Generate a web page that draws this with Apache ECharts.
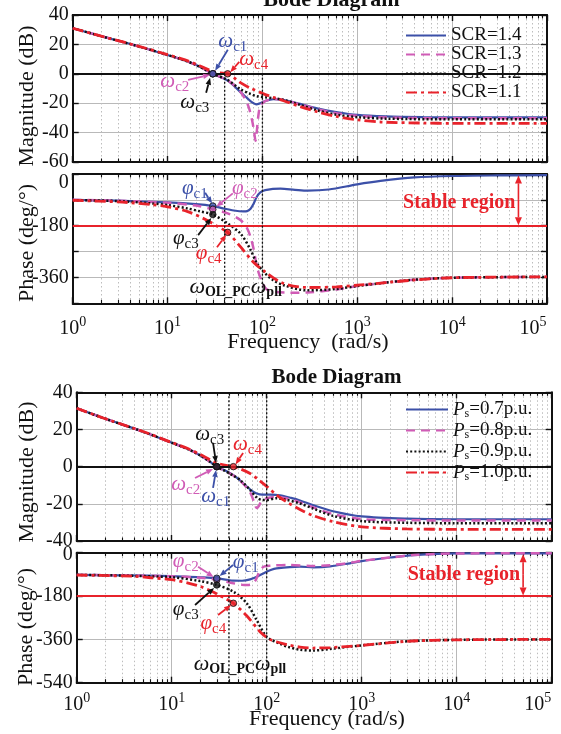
<!DOCTYPE html>
<html>
<head>
<meta charset="utf-8">
<script src="https://cdn.jsdelivr.net/npm/echarts@6.0.0/dist/echarts.min.js"></script>
<style>
  html, body { margin: 0; padding: 0; background: #ffffff; }
  #c { width: 561px; height: 734px; }
</style>
</head>
<body>
<div id="c"></div>
<script>
// ---------- frequency axis (rad/s) ----------
const freqMin = 1;
const freqMax = 1e5;
const wOLPC = 40;      // outer power-control loop bandwidth
const wPLL = 100;      // PLL bandwidth
const stableFreq = 5e4;

// ---------- upper plot: SCR sweep ----------
const scrNames = ['SCR=1.4', 'SCR=1.3', 'SCR=1.2', 'SCR=1.1'];

const scrMag14 = [[1,31],[2,25.6],[5,18.6],[10,12.8],[15,9.2],[20,6],[25,2.8],[30,0],[42,-4.2],[50,-8],[58.6,-12.5],[69,-16.5],[78,-19.5],[86,-20.8],[95,-20],[107,-18.5],[130,-17.3],[170,-17.8],[250,-20.5],[377,-23.5],[600,-26],[1000,-28],[2000,-29],[5000,-29.5],[10000,-29.6],[100000,-29.6]];
const scrMag13 = [[1,31],[2,25.6],[5,18.6],[10,12.8],[15,9.2],[20,6],[25,2.8],[30,0],[42,-4.1],[55,-10],[65,-16.5],[72,-23],[78,-32],[82,-40],[84.5,-45.5],[87,-40],[90,-30],[95,-22],[107,-18.6],[131,-17.2],[170,-17.9],[250,-20.8],[377,-24],[600,-26.8],[1000,-28.6],[2000,-29.7],[10000,-30.3],[100000,-30.3]];
const scrMag12 = [[1,31],[2,25.6],[5,18.6],[10,12.8],[15,9.2],[20,6],[25,2.8],[30,0],[42,-3.8],[58.6,-10.5],[74.5,-13.6],[87,-15.2],[107,-16],[131,-16.6],[170,-17.9],[250,-21.2],[377,-24.8],[600,-27.8],[1000,-29.5],[2000,-30.5],[10000,-31],[100000,-31]];
const scrMag11 = [[1,31],[2,25.6],[5,18.7],[10,13],[15,9.6],[20,6.5],[25,3.7],[30,1.6],[36,0.7],[43,0],[50,-2.6],[58.6,-6],[75,-9.8],[100,-13.3],[130,-16],[167,-18.3],[250,-22.3],[377,-25.8],[600,-29],[1000,-31.3],[1760,-32.8],[5000,-33.5],[10000,-33.7],[100000,-33.7]];

const scrPh14 = [[1,-90],[3,-93],[10,-99],[20,-105],[30,-111.6],[40,-121],[50,-127],[63,-130],[69,-129],[75,-121],[80,-106],[87,-80],[95,-64],[107,-56],[155,-51],[220,-55],[300,-58],[500,-54],[1000,-36],[1760,-24],[4000,-12],[10000,-7],[30000,-5],[100000,-4]];
const scrPh13 = [[1,-90],[3,-93],[10,-100],[20,-110],[30,-123],[43,-137],[58.6,-160],[69,-189],[75,-220],[80,-255],[86,-310],[91,-342],[100,-378],[110,-400],[130,-410],[200,-413],[300,-412],[600,-402],[1000,-390],[2000,-378],[4000,-368],[10000,-361],[100000,-358]];
const scrPh12 = [[1,-91],[3,-94],[6.6,-102],[10,-108],[16.3,-120],[22,-130],[30,-141],[43,-172],[58.6,-207],[74.5,-262],[87,-310],[107,-346],[130,-370],[167,-387],[295,-405],[600,-400],[1000,-390],[2000,-378],[4000,-368],[10000,-361],[100000,-358]];
const scrPh11 = [[1,-92],[3,-97],[6.6,-106],[10,-114],[16.3,-131],[25.7,-160],[33,-181],[43,-203],[58.6,-253],[80,-306],[107,-341],[167,-381],[300,-395],[600,-393],[1000,-387],[2000,-378],[4000,-369],[10000,-361],[100000,-358]];

// crossover points (c1..c4)
const scrCrossFreq = [30, 30, 30, 43];
const scrCrossMag = [0, 0, 0, 0];
const scrCrossPhase = [-111.6, -123, -141, -203];

// ---------- lower plot: active power sweep ----------
const psNames = ['Ps=0.7p.u.', 'Ps=0.8p.u.', 'Ps=0.9p.u.', 'Ps=1.0p.u.'];

const psMag07 = [[1,31.4],[2,25.8],[5,18.8],[10,12.9],[15,9.3],[20,6],[25,2.8],[29.8,0],[37,-2.2],[44.6,-4.6],[53,-7.6],[61.6,-10.7],[70,-13],[78.5,-14.4],[90,-15],[110,-15],[138,-15.4],[180,-16.8],[224,-18.2],[310,-20.8],[500,-24],[1000,-26.8],[3000,-28],[10000,-28.3],[100000,-28.3]];
const psMag08 = [[1,31.4],[2,25.8],[5,18.8],[10,12.9],[15,9.3],[20,6],[25,2.8],[29.8,0],[37,-2.4],[44.6,-4.8],[52.6,-7.6],[62,-11.5],[68,-14.5],[73,-18.5],[78.5,-22.3],[83,-21],[88,-18.5],[100,-17],[127,-16.3],[160,-17],[224,-19.2],[310,-22],[500,-25.5],[1000,-28.2],[3000,-28.8],[10000,-29],[100000,-29]];
const psMag09 = [[1,31.4],[2,25.8],[5,18.8],[10,12.9],[15,9.3],[20,6],[25,2.8],[29.8,0],[37,-2.5],[44.6,-4.9],[52.6,-7.2],[67,-12.6],[78.5,-16.6],[90,-17.9],[100,-17.9],[127,-17],[160,-17.8],[224,-19.8],[310,-22.6],[500,-26.5],[1000,-29.3],[3000,-30.2],[10000,-30.4],[100000,-30.4]];
const psMag10 = [[1,31.4],[2,25.8],[5,18.9],[10,13],[15,9.6],[20,6.6],[25,3.9],[29.8,2],[36,0.8],[44.6,0],[55,-1.6],[67,-3.7],[80,-6.6],[100,-10.6],[127,-15.2],[160,-18.8],[224,-23],[310,-26.4],[500,-29.6],[1000,-32.4],[3000,-33.5],[10000,-33.7],[100000,-33.7]];

const psPh07 = [[1,-92],[3,-94],[10,-97],[20,-102],[29.8,-106],[44.6,-116],[55,-116.5],[67,-111],[80,-99],[92,-86],[110,-72],[127,-65],[224,-58],[310,-61],[465,-57],[750,-44],[1000,-35],[2000,-20],[3500,-10],[10000,-3],[100000,-2.5]];
const psPh08 = [[1,-92],[3,-94],[10,-98],[20,-104],[29.8,-112],[44.6,-127],[55,-133],[63,-134],[70,-130],[76,-116],[82,-87],[88,-66],[95,-57],[110,-54],[167,-51],[310,-55],[465,-52],[750,-42],[1000,-34],[2000,-20],[3500,-10],[10000,-3],[100000,-2.5]];
const psPh09 = [[1,-92],[3,-95],[10,-102],[20,-118],[29.8,-134],[44.6,-162],[61.6,-210],[78.5,-280],[100,-349],[138,-378],[167,-391],[224,-403],[310,-406],[465,-400],[1000,-385],[3000,-368],[10000,-362],[100000,-360]];
const psPh10 = [[1,-93],[4,-98],[6,-104],[10,-112],[15.6,-128],[20,-140],[28,-165],[35,-186],[44.6,-210],[61.6,-262],[85,-328],[108,-360],[138,-374],[167,-383],[224,-392],[310,-396],[465,-394],[1000,-385],[3000,-368],[10000,-362],[100000,-360]];

const psCrossFreq = [29.8, 29.8, 29.8, 44.6];
const psCrossMag = [0, 0, 0, 0];
const psCrossPhase = [-106, -112, -134, -210];

// ---------- styling ----------
const FONT = '"Liberation Serif", "Times New Roman", serif';
const INK = '#111111';
const BLUE = '#3c50a8', PINK = '#d05cb6', BLACK = '#111111', RED = '#e8232b';
const LINE_STYLES = [
  { color: BLUE,  type: 'solid',       width: 2.2 },
  { color: PINK,  type: [9, 6],        width: 2.5 },
  { color: BLACK, type: [2, 2.2],      width: 2.5 },
  { color: RED,   type: [11, 4, 3, 4], width: 2.8 }
];

// plot rectangles: upper magnitude, upper phase, lower magnitude, lower phase
const GRIDS = [
  { left: 72.7, top: 15,    width: 474.3, height: 147 },
  { left: 72.7, top: 174,   width: 474.3, height: 129.3 },
  { left: 76.7, top: 392.3, width: 475,   height: 148.7 },
  { left: 76.7, top: 552.7, width: 475,   height: 130 }
];
const Y_SCALES = [
  { min: -60,  max: 40, interval: 20 },
  { min: -450, max: 0,  interval: 90 },
  { min: -40,  max: 40, interval: 20 },
  { min: -540, max: 0,  interval: 180 }
];

const chart = echarts.init(document.getElementById('c'), null, { renderer: 'canvas' });

function xAxisFor(g, pos, withLabels) {
  const bottom = pos === 'bottom';
  return {
    type: 'log', logBase: 10, gridIndex: g, position: pos,
    min: freqMin, max: freqMax, splitNumber: 5,
    axisLine: { show: true, onZero: false, lineStyle: { color: INK, width: 2 } },
    axisTick: { show: true, inside: true, length: 6, lineStyle: { color: INK, width: 1.4 } },
    minorTick: { show: true, splitNumber: 9, length: 3.5, lineStyle: { color: INK, width: 1.1 } },
    splitLine: { show: bottom, lineStyle: { color: '#b9b9b9', width: 1 } },
    minorSplitLine: { show: bottom, lineStyle: { color: '#bdbdbd', width: 1, type: [1.5, 2.5] } },
    axisLabel: withLabels ? {
      show: true, margin: g === 1 ? 12 : 9, showMinLabel: true, showMaxLabel: true,
      formatter: function (v) {
        const k = Math.round(Math.log10(v));
        return k === 5 ? '{m|10}{q|5}' : '{m|10}{e|' + k + '}';
      },
      rich: {
        m: { fontSize: 20, fontFamily: FONT, color: INK },
        e: { fontSize: 14, fontFamily: FONT, color: INK, padding: [0, 0, 12, 0] },
        q: { fontSize: 14, fontFamily: FONT, color: INK, padding: [0, 28, 12, 0] }
      }
    } : { show: false }
  };
}

function yAxisFor(g, pos) {
  const s = Y_SCALES[g];
  const left = pos === 'left';
  let formatter = null;
  if (g === 1) {
    formatter = function (v) {
      if (v % 180 !== 0) return '';
      return v === 0 ? '{z|0}' : String(v);
    };
  } else if (g === 3) {
    formatter = function (v) { return v === 0 ? '{y|0}' : String(v); };
  }
  return {
    type: 'value', gridIndex: g, position: pos,
    min: s.min, max: s.max, interval: s.interval,
    axisLine: { show: true, onZero: false, lineStyle: { color: INK, width: 2 } },
    axisTick: { show: true, inside: true, length: 6, lineStyle: { color: INK, width: 1.4 } },
    splitLine: { show: left, lineStyle: { color: '#b9b9b9', width: 1 } },
    axisLabel: left ? {
      show: true, margin: 4, fontSize: 20, fontFamily: FONT, color: INK,
      formatter: formatter || undefined,
      rich: {
        z: { fontSize: 20, fontFamily: FONT, color: INK, padding: [18, 0, 0, 0] },
        y: { fontSize: 20, fontFamily: FONT, color: INK, padding: [5, 0, 0, 0] }
      }
    } : { show: false }
  };
}

function curve(name, data, g, i, extra) {
  const st = LINE_STYLES[i];
  return Object.assign({
    name: name, type: 'line', xAxisIndex: g, yAxisIndex: g, data: data,
    symbol: 'none', showSymbol: false, smooth: 0.3,
    lineStyle: { color: st.color, type: st.type, width: st.width },
    itemStyle: { color: st.color },
    z: 3 + i * 0.1
  }, extra || {});
}

function refLine(value, color) {
  return {
    silent: true, symbol: 'none', label: { show: false },
    data: [{ yAxis: value, lineStyle: { color: color, width: 2, type: 'solid' } }]
  };
}

function markerSeries(g, freqs, vals, order) {
  return {
    type: 'scatter', xAxisIndex: g, yAxisIndex: g, symbol: 'circle', symbolSize: 6.5,
    silent: true, z: 6,
    itemStyle: { borderColor: INK, borderWidth: 1 },
    data: order.map(function (i) {
      return { value: [freqs[i], vals[i]], itemStyle: { color: LINE_STYLES[i].color } };
    })
  };
}

const scrMag = [scrMag14, scrMag13, scrMag12, scrMag11];
const scrPh = [scrPh14, scrPh13, scrPh12, scrPh11];
const psMag = [psMag07, psMag08, psMag09, psMag10];
const psPh = [psPh07, psPh08, psPh09, psPh10];

const series = [];
scrMag.forEach(function (d, i) { series.push(curve(scrNames[i], d, 0, i, i === 0 ? { markLine: refLine(0, INK) } : null)); });
scrPh.forEach(function (d, i) { series.push(curve(scrNames[i], d, 1, i, i === 0 ? { markLine: refLine(-180, RED) } : null)); });
psMag.forEach(function (d, i) { series.push(curve(psNames[i], d, 2, i, i === 0 ? { markLine: refLine(0, INK) } : null)); });
psPh.forEach(function (d, i) { series.push(curve(psNames[i], d, 3, i, i === 0 ? { markLine: refLine(-180, RED) } : null)); });
series.push(markerSeries(0, scrCrossFreq, scrCrossMag, [2, 1, 0, 3]));
series.push(markerSeries(1, scrCrossFreq, scrCrossPhase, [0, 1, 2, 3]));
series.push(markerSeries(2, psCrossFreq, psCrossMag, [0, 1, 2, 3]));
series.push(markerSeries(3, psCrossFreq, psCrossPhase, [1, 0, 2, 3]));

// legend keys show only the line pattern, no symbol
const noSymbol = { color: 'rgba(0,0,0,0)', borderColor: 'rgba(0,0,0,0)', borderWidth: 0, opacity: 0 };

chart.setOption({
  animation: false,
  backgroundColor: '#ffffff',
  grid: GRIDS.map(function (g) { return Object.assign({ containLabel: false, outerBoundsMode: 'none' }, g); }),
  xAxis: [
    xAxisFor(0, 'bottom', false), xAxisFor(1, 'bottom', true),
    xAxisFor(2, 'bottom', false), xAxisFor(3, 'bottom', true),
    xAxisFor(0, 'top', false), xAxisFor(1, 'top', false),
    xAxisFor(2, 'top', false), xAxisFor(3, 'top', false)
  ],
  yAxis: [
    yAxisFor(0, 'left'), yAxisFor(1, 'left'), yAxisFor(2, 'left'), yAxisFor(3, 'left'),
    yAxisFor(0, 'right'), yAxisFor(1, 'right'), yAxisFor(2, 'right'), yAxisFor(3, 'right')
  ],
  legend: [
    {
      data: scrNames, orient: 'vertical', left: 405, top: 26,
      itemWidth: 40, itemHeight: 14, itemGap: 0, padding: 0, selectedMode: false,
      itemStyle: noSymbol,
      textStyle: { fontFamily: FONT, fontSize: 19, color: INK, lineHeight: 15.8 }
    },
    {
      data: psNames, orient: 'vertical', left: 405, top: 399,
      itemWidth: 42, itemHeight: 14, itemGap: 0, padding: 0, selectedMode: false,
      itemStyle: noSymbol,
      formatter: function (name) { return '{p|P}{s|s}{t|' + name.slice(2) + '}'; },
      textStyle: {
        fontFamily: FONT, fontSize: 19, color: INK, lineHeight: 15.3,
        rich: {
          p: { fontFamily: FONT, fontSize: 19, fontStyle: 'italic', color: INK, lineHeight: 15.3 },
          s: { fontFamily: FONT, fontSize: 12, color: INK, padding: [9, 0, 0, 0], lineHeight: 15.3 },
          t: { fontFamily: FONT, fontSize: 19, color: INK, lineHeight: 15.3 }
        }
      }
    }
  ],
  series: series
});

// ---------- annotations ----------
// offsets (px) from each crossover marker: label centre, arrow tail, arrow tip
const scrMagNotes = [
  { at: 0, text: [20, -32], tail: [15, -24], tip: [2.3, -3] },
  { at: 3, text: [26, -14], tail: [11.6, -12], tip: [2.6, -1.5] },
  { at: 1, text: [-38, 8], tail: [-24.7, 6], tip: [-2.7, 1] },
  { at: 2, text: [-18, 29], tail: [-6.7, 19], tip: [-2.7, 4] }
];
const scrPhNotes = [
  { at: 0, text: [-18, -18], tail: [-7.7, -13.3], tip: [-0.7, -2.5] },
  { at: 1, text: [32, -21], tail: [20, -16], tip: [3.5, -2.5] },
  { at: 2, text: [-27, 24], tail: [-14.7, 20.6], tip: [-1.5, 3.5] },
  { at: 3, text: [-19, 21], tail: [-10.7, 15], tip: [-1.4, 2.5] }
];
const psMagNotes = [
  { at: 2, text: [-7, -32], tail: [-3.7, -23.7], tip: [-0.7, -3.7] },
  { at: 3, text: [14, -22], tail: [9.7, -13.7], tip: [2.2, -2.2] },
  { at: 1, text: [-31, 18], tail: [-21.7, 11.3], tip: [-3.7, 2.3] },
  { at: 0, text: [-1, 30], tail: [-3.7, 21.3], tip: [-0.7, 3.3] }
];
const psPhNotes = [
  { at: 1, text: [-31, -18], tail: [-18.7, -13], tip: [-3.2, -2.7] },
  { at: 0, text: [29, -16], tail: [16.3, -13.2], tip: [2.8, -2.2] },
  { at: 2, text: [-31, 25], tail: [-21.7, 20], tip: [-2.7, 3] },
  { at: 3, text: [-20, 20], tail: [-15.3, 11.8], tip: [-2.3, 1.8] }
];

function px(g, x, y) { return chart.convertToPixel({ gridIndex: g }, [x, y]); }

function arrow(x1, y1, x2, y2, color, head, w, lw) {
  head = head || 7; w = w || 5.5; lw = lw || 1.8;
  const a = Math.atan2(y2 - y1, x2 - x1);
  const bx = x2 - head * Math.cos(a), by = y2 - head * Math.sin(a);
  const nx = -Math.sin(a) * w / 2, ny = Math.cos(a) * w / 2;
  return [
    { type: 'line', silent: true, z: 50, shape: { x1: x1, y1: y1, x2: bx, y2: by }, style: { stroke: color, lineWidth: lw } },
    { type: 'polygon', silent: true, z: 50, shape: { points: [[x2, y2], [bx + nx, by + ny], [bx - nx, by - ny]] }, style: { fill: color } }
  ];
}

function greekLabel(letter, sub, color, x, y) {
  return {
    type: 'text', x: x, y: y, silent: true, z: 60,
    style: {
      text: '{g|' + letter + '}{s|' + sub + '}', align: 'center', verticalAlign: 'middle', fill: color,
      rich: {
        g: { fontFamily: FONT, fontSize: 21, fontStyle: 'italic', fill: color },
        s: { fontFamily: FONT, fontSize: 15, fill: color, padding: [11, 0, 0, 0] }
      }
    }
  };
}

function notesFor(g, freqs, vals, notes, letter) {
  const out = [];
  notes.forEach(function (n) {
    const p = px(g, freqs[n.at], vals[n.at]);
    const c = LINE_STYLES[n.at].color;
    out.push.apply(out, arrow(p[0] + n.tail[0], p[1] + n.tail[1], p[0] + n.tip[0], p[1] + n.tip[1], c));
    out.push(greekLabel(letter, 'c' + (n.at + 1), c, p[0] + n.text[0], p[1] + n.text[1]));
  });
  return out;
}

function plainText(str, x, y, size, opts) {
  opts = opts || {};
  return {
    type: 'text', x: x, y: y, rotation: opts.rotation || 0, silent: true, z: 60,
    style: {
      text: str, align: opts.align || 'center', verticalAlign: 'middle',
      fontFamily: FONT, fontSize: size, fontWeight: opts.bold ? 'bold' : 'normal',
      fill: opts.color || INK
    }
  };
}

function gridBottom(g) { return GRIDS[g].top + GRIDS[g].height; }

function bandwidthMarks(magG, phG, yStartDb, labelDy) {
  const out = [];
  [wOLPC, wPLL].forEach(function (f) {
    const top = px(magG, f, yStartDb);
    const bottom = gridBottom(phG);
    out.push({
      type: 'line', silent: true, z: 20,
      shape: { x1: top[0], y1: top[1], x2: top[0], y2: bottom },
      style: { stroke: INK, lineWidth: 1.3, lineDash: [2, 2] }
    });
  });
  const xl = px(phG, wOLPC, 0)[0];
  out.push({
    type: 'text', x: xl + 11, y: gridBottom(phG) + labelDy, silent: true, z: 60,
    style: {
      text: '{w|ω}{b|OL_PC}{w|ω}{b|pll}', align: 'center', verticalAlign: 'middle', fill: INK,
      rich: {
        w: { fontFamily: FONT, fontSize: 22, fontStyle: 'italic', fill: INK },
        b: { fontFamily: FONT, fontSize: 14, fontWeight: 'bold', fill: INK, padding: [10, 0, 0, 0] }
      }
    }
  });
  return out;
}

function stableRegion(g, labelDeg) {
  const top = px(g, stableFreq, 0);
  const bot = px(g, stableFreq, -180);
  const out = [];
  const mid = (top[1] + bot[1]) / 2;
  out.push.apply(out, arrow(top[0], mid, top[0], top[1] + 1.5, RED, 8, 7, 1.6));
  out.push.apply(out, arrow(top[0], mid, top[0], bot[1] - 0.5, RED, 8, 7, 1.6));
  const ly = px(g, stableFreq, labelDeg)[1];
  out.push(plainText('Stable region', top[0] - 3, ly, 20, { bold: true, color: RED, align: 'right' }));
  return out;
}

const elements = [];
elements.push.apply(elements, bandwidthMarks(0, 1, 0, -16));
elements.push.apply(elements, bandwidthMarks(2, 3, 40, -18));
elements.push.apply(elements, notesFor(0, scrCrossFreq, scrCrossMag, scrMagNotes, 'ω'));
elements.push.apply(elements, notesFor(1, scrCrossFreq, scrCrossPhase, scrPhNotes, 'φ'));
elements.push.apply(elements, notesFor(2, psCrossFreq, psCrossMag, psMagNotes, 'ω'));
elements.push.apply(elements, notesFor(3, psCrossFreq, psCrossPhase, psPhNotes, 'φ'));
elements.push.apply(elements, stableRegion(1, -100));
elements.push.apply(elements, stableRegion(3, -93));

// titles and axis names
elements.push(plainText('Bode Diagram', 331.5, 0.5, 22, { bold: true }));
elements.push(plainText('Bode Diagram', 336.5, 378, 21, { bold: true }));
elements.push(plainText('Magnitude (dB)', 27, 96, 22, { rotation: Math.PI / 2 }));
elements.push(plainText('Phase (deg/°)', 27, 243, 22, { rotation: Math.PI / 2 }));
elements.push(plainText('Magnitude (dB)', 27, 472, 22, { rotation: Math.PI / 2 }));
elements.push(plainText('Phase (deg/°)', 26, 627, 22, { rotation: Math.PI / 2 }));
elements.push(plainText('Frequency  (rad/s)', 308, 342, 22));
elements.push(plainText('Frequency (rad/s)', 327, 719, 22));

chart.setOption({ graphic: { elements: elements } });
</script>
</body>
</html>
